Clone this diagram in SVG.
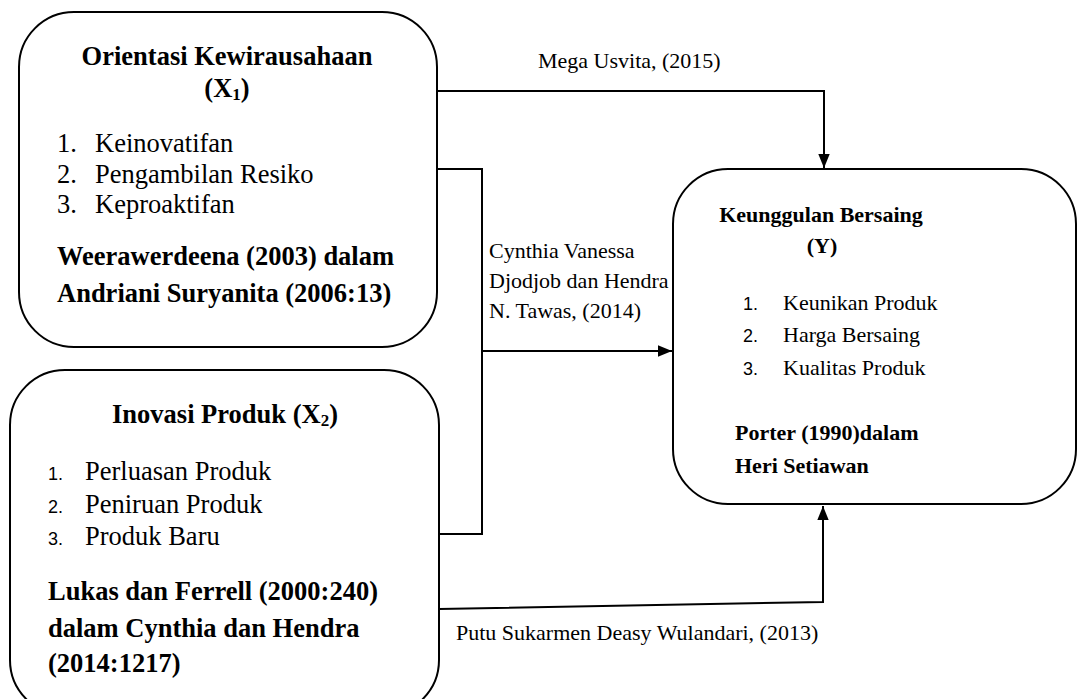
<svg xmlns="http://www.w3.org/2000/svg" width="1081" height="699" viewBox="0 0 1081 699">
<defs>
<style>
.box{fill:#fff;stroke:#000;stroke-width:2}
.ln{fill:none;stroke:#000;stroke-width:2}
.t{font-family:"Liberation Serif","Times New Roman",serif;fill:#000}
.big{font-size:26.5px}
.sm{font-size:22px}
.b{font-weight:bold}
.num{font-family:"Liberation Sans",Arial,sans-serif;font-size:18px;fill:#000}
</style>
<marker id="ah" markerWidth="14" markerHeight="18" refX="16" refY="6.5" orient="auto" markerUnits="userSpaceOnUse" viewBox="0 0 16 13">
<path d="M0,0 L16,6.5 L0,13 Z" fill="#000"/>
</marker>
</defs>
<rect width="1081" height="699" fill="#fff"/>
<g id="connectors">
<polyline class="ln" points="437,91 824,91 824,168" marker-end="url(#ah)"/>
<polyline class="ln" points="437,169 482,169 482,534 439,534"/>
<line class="ln" x1="482" y1="351" x2="672" y2="351" marker-end="url(#ah)"/>
<polyline class="ln" points="439,609 823,602 823,506" marker-end="url(#ah)"/>
<text class="t sm" x="538" y="68">Mega Usvita,  (2015)</text>
<text class="t sm" x="489" y="258">Cynthia Vanessa</text>
<text class="t sm" x="489" y="288">Djodjob dan Hendra</text>
<text class="t sm" x="489" y="318">N. Tawas, (2014)</text>
<text class="t sm" x="456" y="640">Putu Sukarmen Deasy Wulandari, (2013)</text>
</g>
<g id="node-x1">
<rect class="box" x="19" y="12" width="418" height="335" rx="55" ry="55"/>
<text class="t big b" x="227" y="65" text-anchor="middle">Orientasi Kewirausahaan</text>
<text class="t big b" x="227" y="97" text-anchor="middle">(X<tspan font-size="17" dy="3">1</tspan><tspan dy="-3">)</tspan></text>
<text class="t big" x="57" y="152">1.</text><text class="t big" x="95" y="152">Keinovatifan</text>
<text class="t big" x="57" y="183">2.</text><text class="t big" x="95" y="183">Pengambilan Resiko</text>
<text class="t big" x="57" y="213">3.</text><text class="t big" x="95" y="213">Keproaktifan</text>
<text class="t big b" x="57" y="265">Weerawerdeena (2003) dalam</text>
<text class="t big b" x="57" y="302">Andriani Suryanita (2006:13)</text>
</g>
<g id="node-x2">
<rect class="box" x="10" y="370" width="429" height="345" rx="55" ry="55"/>
<text class="t big b" x="225" y="423" text-anchor="middle">Inovasi Produk (X<tspan font-size="17" dy="3">2</tspan><tspan dy="-3">)</tspan></text>
<text class="num" x="48" y="480">1.</text><text class="t big" x="85" y="480">Perluasan Produk</text>
<text class="num" x="48" y="513">2.</text><text class="t big" x="85" y="513">Peniruan Produk</text>
<text class="num" x="48" y="545">3.</text><text class="t big" x="85" y="545">Produk Baru</text>
<text class="t big b" x="48" y="600">Lukas dan Ferrell (2000:240)</text>
<text class="t big b" x="48" y="637">dalam Cynthia dan Hendra</text>
<text class="t big b" x="48" y="672">(2014:1217)</text>
</g>
<g id="node-y">
<rect class="box" x="673" y="169" width="403" height="335" rx="55" ry="55"/>
<text class="t sm b" x="821" y="222" text-anchor="middle">Keunggulan Bersaing</text>
<text class="t sm b" x="822" y="253" text-anchor="middle">(Y)</text>
<text class="num" x="743" y="310" font-size="15">1.</text><text class="t sm" x="783" y="310">Keunikan Produk</text>
<text class="num" x="743" y="342" font-size="15">2.</text><text class="t sm" x="783" y="342">Harga Bersaing</text>
<text class="num" x="743" y="375" font-size="15">3.</text><text class="t sm" x="783" y="375">Kualitas Produk</text>
<text class="t sm b" x="735" y="440">Porter (1990)dalam</text>
<text class="t sm b" x="735" y="473">Heri Setiawan</text>
</g>
</svg>
